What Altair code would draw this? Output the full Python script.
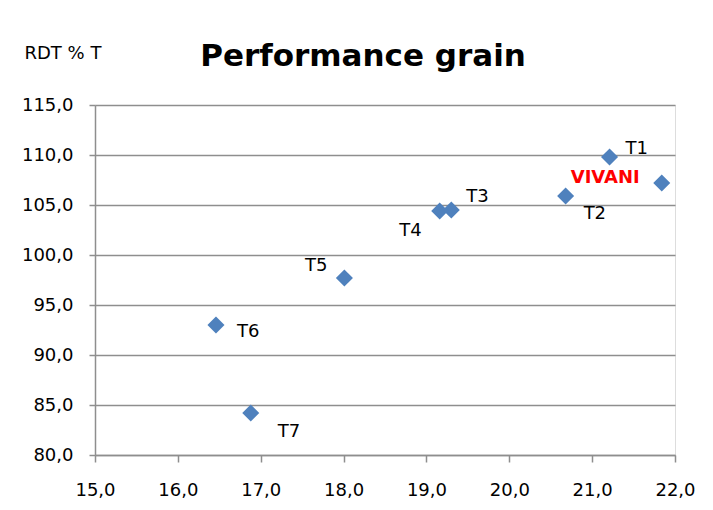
import altair as alt
import pandas as pd

# ---- data ----
names = ["T1", "T2", "T3", "T4", "T5", "T6", "T7", "VIVANI"]
ndvi = [21.21, 20.68, 19.30, 19.16, 18.01, 16.46, 16.88, 21.84]
rdt = [109.8, 105.9, 104.5, 104.4, 97.7, 93.0, 84.2, 107.2]
x_ticks = [15, 16, 17, 18, 19, 20, 21, 22]
y_ticks = [80, 85, 90, 95, 100, 105, 110, 115]
chart_title = "Performance grain"
y_title = "RDT % T"

# label placement (style only)
label_align = ["left", "left", "left", "right", "right", "left", "left", "right"]
label_dx = [16, 18, 15, -18, -17, 21, 27, -22]
label_dy = [-8, 18, -13, 20, -12, 7, 19, -5]

df = pd.DataFrame({"name": names, "x": ndvi, "y": rdt})

FONT = "DejaVu Sans"
GRID = "#8E8E8E"
fmt = "replace(format(datum.value, '.1f'), '.', ',')"

axis_style = dict(labelFont=FONT, labelFontSize=18, labelColor="#000000",
                  domainColor=GRID, domainWidth=1.5, tickColor=GRID, tickWidth=1.5,
                  gridColor=GRID, gridWidth=1.5, title=None, labelFlush=False,
                  labelOverlap=False)

xs = alt.X("x:Q", scale=alt.Scale(domain=[15, 22], nice=False, zero=False),
           axis=alt.Axis(values=x_ticks, labelExpr=fmt, grid=False,
                         tickSize=7, labelPadding=19, **axis_style))
ys = alt.Y("y:Q", scale=alt.Scale(domain=[80, 115], nice=False, zero=False),
           axis=alt.Axis(values=y_ticks, labelExpr=fmt, grid=True,
                         tickSize=6, labelPadding=16, **axis_style))

base = alt.Chart(df)
points = base.mark_point(shape="diamond", filled=True, size=290,
                         color="#4F81BD", opacity=1).encode(x=xs, y=ys)

layers = [points]
for i, n in enumerate(names):
    is_v = n == "VIVANI"
    layers.append(
        base.transform_filter(alt.datum.name == n).mark_text(
            align=label_align[i], baseline="middle", dx=label_dx[i], dy=label_dy[i],
            font=FONT, fontSize=18,
            fontWeight="bold" if is_v else "normal",
            color="#FF0000" if is_v else "#000000",
        ).encode(x=alt.X("x:Q"), y=alt.Y("y:Q"), text="name:N")
    )

ylab = alt.Chart(pd.DataFrame({"t": [y_title]})).mark_text(
    align="left", baseline="alphabetic", font=FONT, fontSize=18, color="#000000"
).encode(x=alt.value(-70.5), y=alt.value(-46), text="t:N")
layers.append(ylab)

ttl = alt.Chart(pd.DataFrame({"t": [chart_title]})).mark_text(
    align="center", baseline="alphabetic", font=FONT, fontSize=31,
    fontWeight="bold", color="#000000"
).encode(x=alt.value(268), y=alt.value(-39), text="t:N")
layers.append(ttl)

chart = alt.layer(*layers).properties(
    width=580, height=350,
    padding={"left": 87, "top": 97, "right": 29, "bottom": 47},
    autosize=alt.AutoSizeParams(type="none"),
).configure_view(stroke=None).configure(background="white")

chart.save("out.html", embed_options={"renderer": "svg", "actions": False})
